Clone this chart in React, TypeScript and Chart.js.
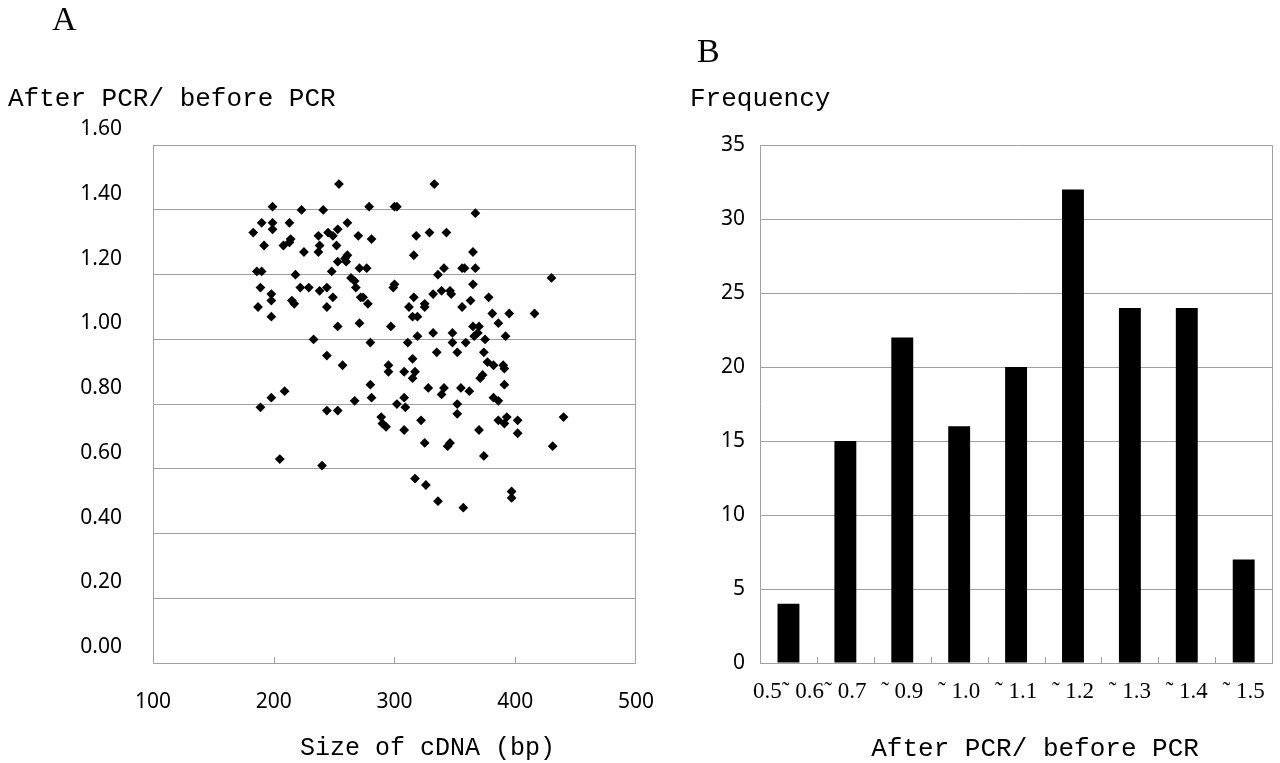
import React, { useEffect, useRef } from "react";
import { Chart, registerables } from "chart.js";

Chart.register(...registerables);

// ---------- Panel A: scatter ----------
const cdnaSizeBp: number[] = [
  254, 333, 199, 223, 241, 279, 300, 302, 367, 190,
  199, 199, 213, 183, 261, 253, 237, 245, 249, 270,
  281, 214, 213, 318, 329, 343, 192, 208, 225, 238,
  237, 252, 316, 365, 261, 259, 253, 260, 271, 277,
  186, 190, 218, 248, 336, 341, 356, 358, 367, 430,
  264, 267, 268, 189, 222, 229, 244, 238, 300, 299,
  365, 198, 198, 249, 272, 274, 332, 339, 346, 347,
  316, 378, 215, 217, 187, 244, 278, 312, 325, 325,
  356, 363, 198, 381, 395, 416, 253, 271, 297, 315,
  319, 386, 365, 370, 233, 280, 311, 319, 332, 348,
  348, 359, 366, 369, 375, 392, 244, 257, 295, 295,
  308, 315, 317, 315, 335, 352, 374, 377, 382, 390,
  391, 373, 371, 280, 391, 328, 341, 355, 339, 362,
  198, 209, 281, 267, 308, 382, 386, 189, 244, 253,
  302, 309, 352, 352, 289, 290, 293, 322, 386, 393,
  391, 402, 440, 308, 370, 402, 325, 346, 344, 431,
  374, 205, 240, 317, 326, 397, 397, 336, 357,
];
const pcrRatio: number[] = [
  1.48, 1.48, 1.41, 1.40, 1.40, 1.41, 1.41, 1.41, 1.39, 1.36,
  1.36, 1.34, 1.36, 1.33, 1.36, 1.34, 1.32, 1.33, 1.32, 1.32,
  1.31, 1.31, 1.30, 1.32, 1.33, 1.33, 1.29, 1.29, 1.27, 1.29,
  1.27, 1.29, 1.26, 1.27, 1.26, 1.25, 1.24, 1.24, 1.22, 1.22,
  1.21, 1.21, 1.20, 1.21, 1.20, 1.22, 1.22, 1.22, 1.22, 1.19,
  1.19, 1.18, 1.16, 1.16, 1.16, 1.16, 1.16, 1.15, 1.17, 1.16,
  1.17, 1.14, 1.12, 1.13, 1.13, 1.13, 1.14, 1.15, 1.15, 1.14,
  1.13, 1.13, 1.12, 1.11, 1.10, 1.10, 1.11, 1.10, 1.11, 1.10,
  1.10, 1.12, 1.07, 1.08, 1.08, 1.08, 1.04, 1.05, 1.04, 1.07,
  1.07, 1.05, 1.04, 1.04, 1.00, 0.99, 0.99, 1.01, 1.02, 1.02,
  0.99, 0.99, 1.01, 1.02, 1.00, 1.01, 0.95, 0.92, 0.92, 0.90,
  0.90, 0.94, 0.90, 0.88, 0.96, 0.96, 0.96, 0.93, 0.92, 0.92,
  0.91, 0.89, 0.88, 0.86, 0.86, 0.85, 0.85, 0.85, 0.83, 0.84,
  0.82, 0.84, 0.82, 0.81, 0.82, 0.82, 0.81, 0.79, 0.78, 0.78,
  0.80, 0.79, 0.80, 0.77, 0.76, 0.74, 0.73, 0.75, 0.75, 0.76,
  0.74, 0.75, 0.76, 0.72, 0.72, 0.71, 0.68, 0.68, 0.67, 0.67,
  0.64, 0.63, 0.61, 0.57, 0.55, 0.53, 0.51, 0.50, 0.48,
];
const scatterXTicks: number[] = [100, 200, 300, 400, 500];

// ---------- Panel B: histogram ----------
const ratioBins: string[] = [
  "0.5˜ 0.6", "˜ 0.7", "˜ 0.9", "˜ 1.0", "˜ 1.1", "˜ 1.2", "˜ 1.3", "˜ 1.4", "˜ 1.5",
];
const binFrequency: number[] = [4, 15, 22, 16, 20, 32, 24, 24, 7];

const GRID = "#a0a0a0";
const SANS = "'Noto Sans', 'DejaVu Sans', sans-serif";
const MONO = "'Liberation Mono', 'DejaVu Sans Mono', monospace";
const SERIF = "'Liberation Serif', 'DejaVu Serif', serif";

// small tick marks on the inside of the bottom axis
const innerTicks = {
  id: "innerTicks",
  afterDatasetsDraw(chart: any, _args: any, opts: any) {
    const xs = chart.scales.x;
    const { ctx, chartArea } = chart;
    let px: number[] = [];
    if (opts.mode === "between") {
      const n = xs.ticks.length;
      for (let i = 0; i < n - 1; i++) px.push(xs.getPixelForValue(i + 0.5));
    } else {
      px = xs.ticks.slice(1, -1).map((t: any) => xs.getPixelForValue(t.value));
    }
    ctx.save();
    ctx.strokeStyle = GRID;
    ctx.lineWidth = 1;
    ctx.beginPath();
    for (const p of px) {
      const x = Math.round(p) + 0.5;
      ctx.moveTo(x, chartArea.bottom);
      ctx.lineTo(x, chartArea.bottom - 6);
    }
    ctx.stroke();
    ctx.restore();
  },
};

// x-axis caption, placed under the plot (slightly right of centre as in the figure)
const axisCaption = {
  id: "axisCaption",
  afterDraw(chart: any, _args: any, opts: any) {
    const { ctx, chartArea } = chart;
    ctx.save();
    ctx.font = `${opts.size}px ${MONO}`;
    ctx.fillStyle = "#000";
    ctx.textAlign = "center";
    ctx.textBaseline = "middle";
    ctx.fillText(
      opts.text,
      (chartArea.left + chartArea.right) / 2 + opts.shift,
      chartArea.bottom + opts.gap
    );
    ctx.restore();
  },
};

function ScatterPanel() {
  const ref = useRef<HTMLCanvasElement>(null);
  useEffect(() => {
    if (!ref.current) return;
    const chart = new Chart(ref.current, {
      type: "scatter",
      data: {
        datasets: [
          {
            data: cdnaSizeBp.map((x, i) => ({ x, y: pcrRatio[i] })),
            pointStyle: "rectRot",
            pointRadius: 4.9,
            backgroundColor: "#000",
            borderColor: "#000",
            borderWidth: 0,
          },
        ],
      },
      plugins: [innerTicks, axisCaption],
      options: {
        responsive: false,
        animation: false,
        events: [],
        layout: { padding: { left: 8, top: 84, right: 37, bottom: 0 } },
        plugins: {
          legend: { display: false },
          tooltip: { enabled: false },
          title: {
            display: true,
            text: "After PCR/ before PCR",
            align: "start",
            color: "#000",
            font: { family: MONO, size: 26, weight: "normal" },
            padding: { top: 0, bottom: 30 },
          },
          innerTicks: { mode: "values" },
          axisCaption: { text: "Size of cDNA (bp)", size: 25, shift: 33, gap: 85 },
        } as any,
        scales: {
          x: {
            type: "linear",
            min: 100,
            max: 500,
            afterBuildTicks: (s: any) => {
              s.ticks = scatterXTicks.map((v) => ({ value: v }));
            },
            afterFit: (s: any) => {
              s.height = 100;
            },
            ticks: {
              color: "#000",
              font: { family: SANS, size: 21 },
              padding: 26,
              maxRotation: 0,
            },
            grid: {
              drawTicks: false,
              color: (c: any) => (c.tick && c.tick.value === 500 ? GRID : "rgba(0,0,0,0)"),
            },
            border: { display: true, color: GRID },
          },
          y: {
            min: 0,
            max: 1.6,
            afterFit: (s: any) => {
              s.width = 145;
            },
            ticks: {
              stepSize: 0.2,
              color: "#000",
              font: { family: SANS, size: 21 },
              padding: 31,
              labelOffset: -16,
              callback: (v: any) => Number(v).toFixed(2),
            },
            grid: { drawTicks: false, color: GRID },
            border: { display: true, color: GRID },
          },
        },
      },
    });
    return () => chart.destroy();
  }, []);
  return (
    <canvas
      ref={ref}
      width={680}
      height={763}
      style={{ position: "absolute", left: 0, top: 0, width: 680, height: 763 }}
    />
  );
}

function HistogramPanel() {
  const ref = useRef<HTMLCanvasElement>(null);
  useEffect(() => {
    if (!ref.current) return;
    const chart = new Chart(ref.current, {
      type: "bar",
      data: {
        labels: ratioBins,
        datasets: [
          {
            data: binFrequency,
            backgroundColor: "#000",
            borderWidth: 0,
            barPercentage: 0.385,
            categoryPercentage: 1,
          },
        ],
      },
      plugins: [innerTicks, axisCaption],
      options: {
        responsive: false,
        animation: false,
        events: [],
        layout: { padding: { left: 10, top: 84, right: 4, bottom: 0 } },
        plugins: {
          legend: { display: false },
          tooltip: { enabled: false },
          title: {
            display: true,
            text: "Frequency",
            align: "start",
            color: "#000",
            font: { family: MONO, size: 26, weight: "normal" },
            padding: { top: 0, bottom: 30 },
          },
          innerTicks: { mode: "between" },
          axisCaption: { text: "After PCR/ before PCR", size: 26, shift: 19, gap: 86 },
        } as any,
        scales: {
          x: {
            afterFit: (s: any) => {
              s.height = 100;
            },
            ticks: {
              color: "#000",
              font: { family: SERIF, size: 23 },
              padding: 15,
              maxRotation: 0,
              autoSkip: false,
            },
            grid: {
              offset: true,
              drawTicks: false,
              color: (c: any) => (c.tick ? "rgba(0,0,0,0)" : GRID),
            },
            border: { display: true, color: GRID },
          },
          y: {
            min: 0,
            max: 35,
            afterFit: (s: any) => {
              s.width = 70;
            },
            ticks: {
              stepSize: 5,
              color: "#000",
              font: { family: SANS, size: 21 },
              padding: 15,
            },
            grid: { drawTicks: false, color: GRID },
            border: { display: true, color: GRID },
          },
        },
      },
    });
    return () => chart.destroy();
  }, []);
  return (
    <canvas
      ref={ref}
      width={600}
      height={763}
      style={{ position: "absolute", left: 680, top: 0, width: 600, height: 763 }}
    />
  );
}

const letterStyle: React.CSSProperties = {
  position: "absolute",
  fontFamily: SERIF,
  fontSize: 34,
  lineHeight: 1,
  color: "#000",
};

export default function App() {
  return (
    <div
      style={{
        position: "absolute",
        left: 0,
        top: 0,
        width: 1280,
        height: 763,
        background: "#fff",
        overflow: "hidden",
      }}
    >
      <ScatterPanel />
      <HistogramPanel />
      <div style={{ ...letterStyle, left: 52, top: 2 }}>A</div>
      <div style={{ ...letterStyle, left: 697, top: 34 }}>B</div>
    </div>
  );
}
